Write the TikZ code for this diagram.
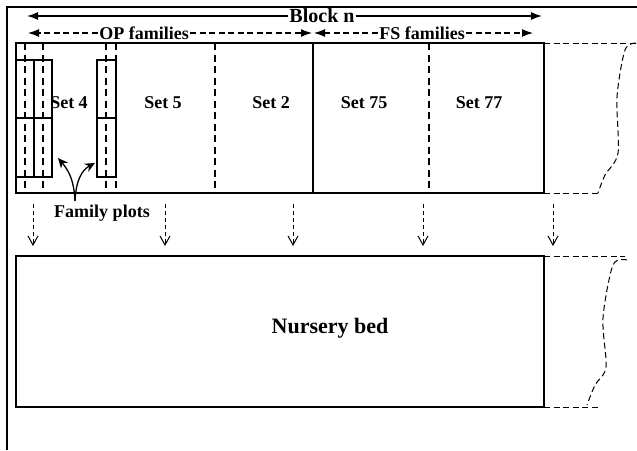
\documentclass[tikz,border=0pt]{standalone}
\usepackage{fontspec}
\setmainfont{Liberation Serif}
\usetikzlibrary{arrows.meta}
\begin{document}
\begin{tikzpicture}[x=1pt,y=-1pt, line width=1.3pt,
  lbl/.style={font=\bfseries\fontsize{18}{18}\selectfont, inner sep=1pt},
  dsh/.style={dash pattern=on 6pt off 3.5pt, line width=1pt},
  vdsh/.style={dash pattern=on 7pt off 4.5pt, line width=1.2pt},
  darrow/.style={dash pattern=on 4pt off 3pt, line width=1pt, -{Straight Barb[length=9pt,width=10pt]}},
  harrow/.style={-{Latex[length=11pt,width=8pt]}},
  carrow/.style={-{Stealth[length=10pt,width=9pt]}, line width=1.3pt}]
\useasboundingbox (0,0) rectangle (637,450);
% frame
\draw[line width=1.4pt] (637,7) -- (7,7) -- (7,450);
% top block
\draw (16,43) rectangle (544,193);
\draw[vdsh] (215,43) -- (215,193);
\draw (313,43) -- (313,193);
\draw[vdsh] (429,43) -- (429,193);
\draw[dsh] (544,43) -- (636,43);
\draw[dsh] (544,193) -- (598,193);
\draw[dsh] plot[smooth] coordinates {(636,43) (625,50) (617,97) (618,153) (605,175) (598,193)};
% family plot strips
\draw[line width=1.1pt] (16,60) rectangle (34,177);
\draw[line width=1.1pt] (34,60) rectangle (52,177);
\draw[line width=1.1pt] (16,118) -- (52,118);
\draw[line width=1.1pt] (97,60) rectangle (116,177);
\draw[line width=1.1pt] (97,118) -- (116,118);
\foreach \x in {25,43,106,116} \draw[vdsh, line width=1.5pt] (\x,43) -- (\x,193);
% lower block
\draw (16,256) rectangle (544,407);
\draw[dsh] (544,256) -- (625,256);
\draw[dsh] (544,407) -- (598,407);
\draw[dsh] plot[smooth] coordinates {(627,260) (613,265) (603,318) (606,367) (595,385) (587,405)};
% labels
\node[lbl, font=\bfseries\fontsize{20}{20}\selectfont] (blk) at (322,16) {Block n};
\node[lbl] (op) at (144,33) {OP families};
\node[lbl] (fs) at (422,33) {FS families};
\node[lbl] (s4) at (69,103) {Set 4};
\node[lbl] (s5) at (163,103) {Set 5};
\node[lbl] (s2) at (271,103) {Set 2};
\node[lbl] (s75) at (364,103) {Set 75};
\node[lbl] (s77) at (479,103) {Set 77};
\node[lbl] (fp) at (102,213) {Family plots};
\node[lbl, font=\bfseries\fontsize{22}{22}\selectfont] (nb) at (330,328) {Nursery bed};
% horizontal arrows
\coordinate (bl) at (27,16); \coordinate (br) at (542,16);
\draw[harrow] (blk.west) -- (bl);
\draw[harrow] (blk.east) -- (br);
\coordinate (opl) at (28,33); \coordinate (opr) at (312,33);
\coordinate (fsl) at (314,33); \coordinate (fsr) at (533,33);
\draw[harrow, dsh, line width=1.1pt] (op.west) -- (opl);
\draw[harrow, dsh, line width=1.1pt] (op.east) -- (opr);
\draw[harrow, dsh, line width=1.1pt] (fs.west) -- (fsl);
\draw[harrow, dsh, line width=1.1pt] (fs.east) -- (fsr);
% family plots arrows
\coordinate (fa) at (75,201);
\coordinate (fta) at (58,158);
\coordinate (ftb) at (95,163);
\draw[carrow] (fa) .. controls (74,182) and (70,172) .. (fta);
\draw[carrow] (fa) .. controls (76,180) and (82,170) .. (ftb);
% down arrows
\foreach \x [count=\i] in {33,165,293,423,553} {
  \coordinate (da\i) at (\x,204);
  \coordinate (db\i) at (\x,246);
  \draw[darrow] (da\i) -- (db\i);
}
\end{tikzpicture}
\end{document}
